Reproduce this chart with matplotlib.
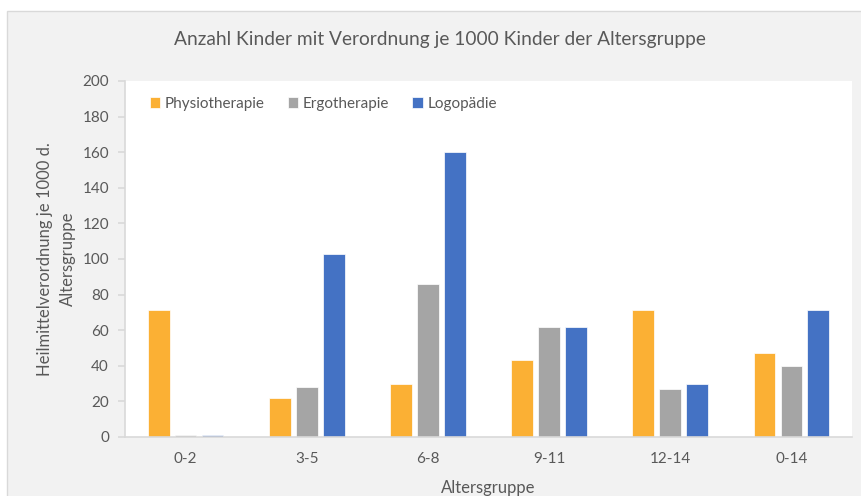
import matplotlib.pyplot as plt
from matplotlib.patches import Rectangle
import numpy as np

W, H = 861, 496

GROUPS = ['0-2', '3-5', '6-8', '9-11', '12-14', '0-14']
PHYSIO = [71.5, 22, 30, 43, 71.5, 47]
ERGO = [1.2, 28, 86, 62, 27, 40]
LOGO = [1.2, 103, 160, 62, 29.5, 71.5]
SERIES = [('Physiotherapie', PHYSIO, '#FBB034'),
          ('Ergotherapie', ERGO, '#A5A5A5'),
          ('Logopädie', LOGO, '#4472C4')]

TEXT = '#595959'


def main():
    plt.rcParams['font.family'] = ['Lato', 'DejaVu Sans']
    fig = plt.figure(figsize=(W / 100, H / 100), dpi=100)
    fig.patch.set_facecolor('white')

    # chart frame, behind everything
    fig.patches.append(Rectangle((7 / W, -0.01), 1.0, (H - 11) / H + 0.01,
                                 transform=fig.transFigure, facecolor='#F2F2F2',
                                 edgecolor='#D9D9D9', linewidth=1, zorder=-10))

    ax = fig.add_axes([125 / W, (H - 437) / H, 727 / W, 356 / H])
    ax.set_facecolor('white')

    x = np.arange(len(GROUPS))
    step = 0.222
    for i, (name, vals, col) in enumerate(SERIES):
        ax.bar(x + (i - 1) * step, vals, width=0.18, color=col, label=name,
               edgecolor='white', linewidth=0.5, zorder=2)

    ax.set_xlim(-0.5, len(GROUPS) - 0.5)
    ax.set_ylim(0, 200)
    ax.set_yticks(range(0, 201, 20))
    ax.set_xticks(x)
    ax.set_xticklabels(GROUPS)

    for s in ['top', 'right']:
        ax.spines[s].set_visible(False)
    for s in ['left', 'bottom']:
        ax.spines[s].set_color('#D9D9D9')
        ax.spines[s].set_linewidth(1.2)
    ax.tick_params(axis='y', colors='#D9D9D9', labelcolor=TEXT, labelsize=11,
                   length=5, width=1.2, pad=6.5)
    ax.tick_params(axis='x', length=0, labelcolor=TEXT, labelsize=11, pad=11)

    ax.set_ylabel('Heilmittelverordnung je 1000 d.\nAltersgruppe', color=TEXT,
                  fontsize=12, labelpad=5, linespacing=1.5)
    ax.set_xlabel('Altersgruppe', color=TEXT, fontsize=12, labelpad=10)

    fig.text(440 / W, 1 - 40 / H, 'Anzahl Kinder mit Verordnung je 1000 Kinder der Altersgruppe',
             ha='center', va='center', color=TEXT, fontsize=13.8)

    ax.legend(loc='upper left', ncol=3, frameon=False, fontsize=11,
              handlelength=0.7, handleheight=0.7, handletextpad=0.3,
              columnspacing=1.5, bbox_to_anchor=(0.015, 0.995),
              labelcolor=TEXT)

    fig.savefig('out.png', dpi=100, facecolor='white')


if __name__ == '__main__':
    main()
